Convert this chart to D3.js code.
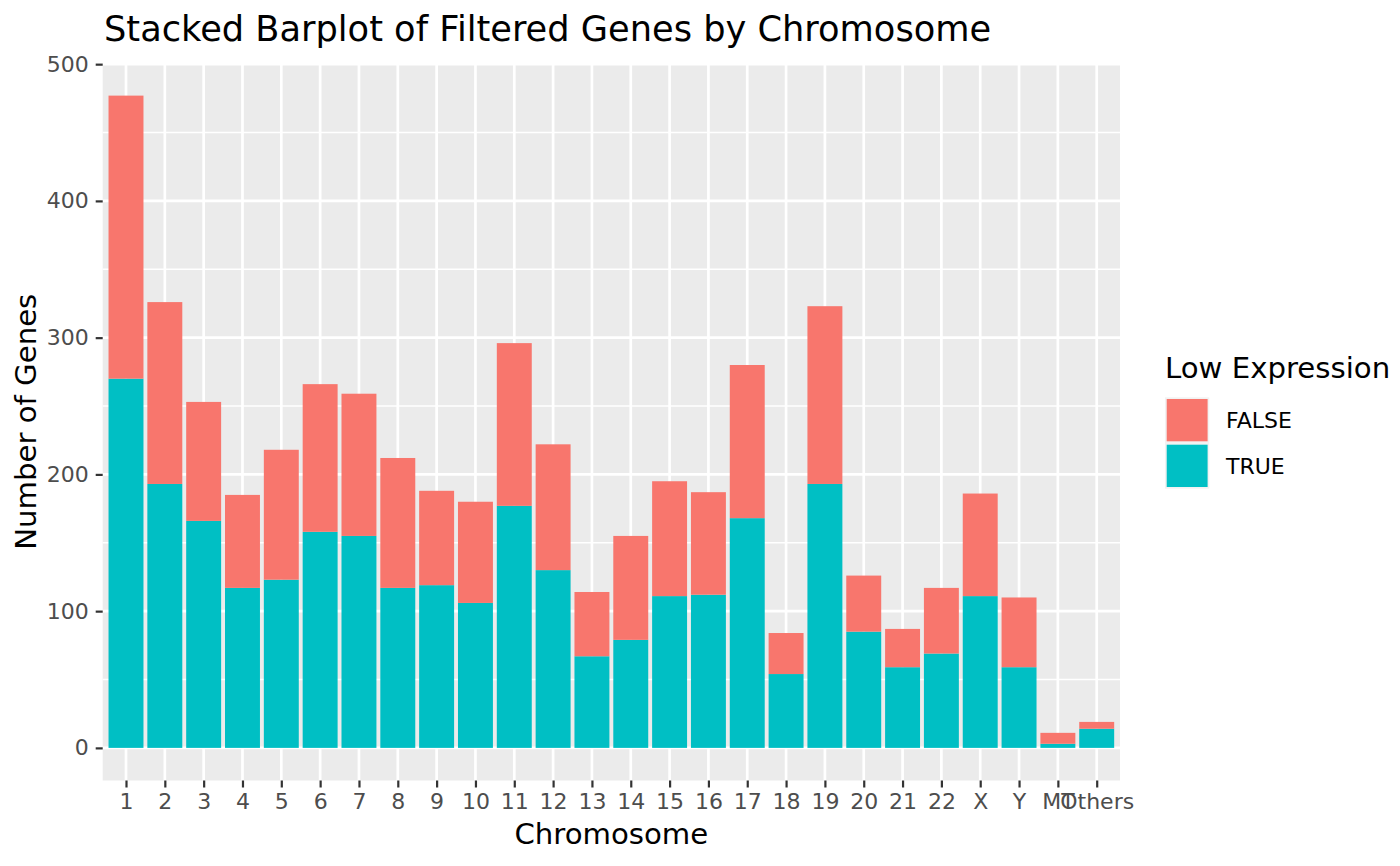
<!DOCTYPE html>
<html>
<head>
<meta charset="utf-8">
<script src="https://cdn.jsdelivr.net/npm/d3@7"></script>
<style>
  html, body { margin: 0; padding: 0; background: #ffffff; }
  svg { display: block; font-family: "DejaVu Sans", sans-serif; }
</style>
</head>
<body>
<svg id="chart" width="1400" height="866"></svg>
<script>
// ---- data ----
const chromosomes = ["1","2","3","4","5","6","7","8","9","10","11","12","13","14","15","16","17","18","19","20","21","22","X","Y","MT","Others"];
const trueCounts  = [270,193,166,117,123,158,155,117,119,106,177,130,67,79,111,112,168,54,193,85,59,69,111,59,3,14];
const falseCounts = [207,133,87,68,95,108,104,95,69,74,119,92,47,76,84,75,112,30,130,41,28,48,75,51,8,5];
const yTicks = [0,100,200,300,400,500];
const yMinor = [50,150,250,350,450];
const seriesNames = ["FALSE","TRUE"];
const seriesColors = ["#F8766D","#00BFC4"];
const titleText = "Stacked Barplot of Filtered Genes by Chromosome";
const xTitle = "Chromosome";
const yTitle = "Number of Genes";
const legendTitle = "Low Expression";

// ---- layout ----
const svg = d3.select("#chart");
const panel = { left: 102.7, right: 1120, top: 63, bottom: 780.5 };

const rows = chromosomes.map((c, i) => ({ chr: c, TRUE: trueCounts[i], FALSE: falseCounts[i] }));
const maxTotal = d3.max(rows, d => d.TRUE + d.FALSE);
const yLo = -0.05 * maxTotal, yHi = maxTotal * 1.05;

const y = d3.scaleLinear().domain([yLo, yHi]).range([panel.bottom, panel.top]);
// discrete x with 0.6 expansion on each side
const n = chromosomes.length;
const xc = d3.scaleLinear().domain([0.4, n + 0.6]).range([panel.left, panel.right]);
const x = c => xc(chromosomes.indexOf(c) + 1);
const barW = xc(1.9) - xc(1);

// panel background
svg.append("rect")
  .attr("x", panel.left).attr("y", panel.top)
  .attr("width", panel.right - panel.left).attr("height", panel.bottom - panel.top)
  .attr("fill", "#EBEBEB");

const grid = svg.append("g");
grid.selectAll("line.minor").data(yMinor).join("line")
  .attr("x1", panel.left).attr("x2", panel.right)
  .attr("y1", d => y(d)).attr("y2", d => y(d))
  .attr("stroke", "#ffffff").attr("stroke-width", 1.35);
grid.selectAll("line.majy").data(yTicks).join("line")
  .attr("x1", panel.left).attr("x2", panel.right)
  .attr("y1", d => y(d)).attr("y2", d => y(d))
  .attr("stroke", "#ffffff").attr("stroke-width", 2.7);
grid.selectAll("line.majx").data(chromosomes).join("line")
  .attr("x1", d => x(d)).attr("x2", d => x(d))
  .attr("y1", panel.top).attr("y2", panel.bottom)
  .attr("stroke", "#ffffff").attr("stroke-width", 2.7);

// stacked bars (TRUE at bottom, FALSE on top)
const stack = d3.stack().keys(["TRUE","FALSE"]);
const stacked = stack(rows);
const colorOf = k => seriesColors[seriesNames.indexOf(k)];
svg.append("g").selectAll("g").data(stacked).join("g")
  .attr("fill", s => colorOf(s.key))
  .selectAll("rect").data(s => s).join("rect")
  .attr("x", d => x(d.data.chr) - barW / 2)
  .attr("width", barW)
  .attr("y", d => y(d[1]))
  .attr("height", d => y(d[0]) - y(d[1]));

// y axis
const yAxis = d3.axisLeft(y).tickValues(yTicks).tickSize(7).tickPadding(7);
const gy = svg.append("g").attr("transform", `translate(${panel.left},0)`).call(yAxis);
gy.select(".domain").remove();
gy.selectAll(".tick line").attr("stroke", "#333333").attr("stroke-width", 2.2);
gy.selectAll(".tick text").attr("fill", "#4D4D4D").attr("font-size", 22)
  .attr("font-family", "DejaVu Sans");

// x axis
const xBand = d3.scalePoint().domain(chromosomes)
  .range([xc(1), xc(n)]);
const xAxis = d3.axisBottom(xBand).tickSize(7).tickPadding(6);
const gx = svg.append("g").attr("transform", `translate(0,${panel.bottom})`).call(xAxis);
gx.select(".domain").remove();
gx.selectAll(".tick line").attr("stroke", "#333333").attr("stroke-width", 2.2);
gx.selectAll(".tick text").attr("fill", "#4D4D4D").attr("font-size", 22)
  .attr("font-family", "DejaVu Sans");

// titles
svg.append("text").attr("x", 104).attr("y", 41)
  .attr("font-size", 35.2).attr("fill", "#000").text(titleText);
svg.append("text").attr("x", (panel.left + panel.right) / 2).attr("y", 844)
  .attr("text-anchor", "middle").attr("font-size", 29.2).attr("fill", "#000").text(xTitle);
svg.append("text")
  .attr("transform", `translate(36,${(panel.top + panel.bottom) / 2}) rotate(-90)`)
  .attr("text-anchor", "middle").attr("font-size", 29.2).attr("fill", "#000").text(yTitle);

// legend
const lg = svg.append("g").attr("transform", "translate(1165,0)");
lg.append("text").attr("x", 0).attr("y", 378).attr("font-size", 29.2).attr("fill", "#000").text(legendTitle);
const keyH = 45.7, keyW = 44.3, keyTop = 397.3;
const items = lg.selectAll("g.item").data(seriesNames).join("g")
  .attr("transform", (d, i) => `translate(0,${keyTop + i * keyH})`);
items.append("rect").attr("width", keyW).attr("height", keyH).attr("fill", "#F2F2F2");
items.append("rect").attr("x", 1.7).attr("y", 1.7)
  .attr("width", keyW - 3.4).attr("height", keyH - 3.4)
  .attr("fill", d => colorOf(d));
items.append("text").attr("x", 61).attr("y", keyH / 2).attr("dy", "0.36em")
  .attr("font-size", 22).attr("fill", "#000").text(d => d);
</script>
</body>
</html>
